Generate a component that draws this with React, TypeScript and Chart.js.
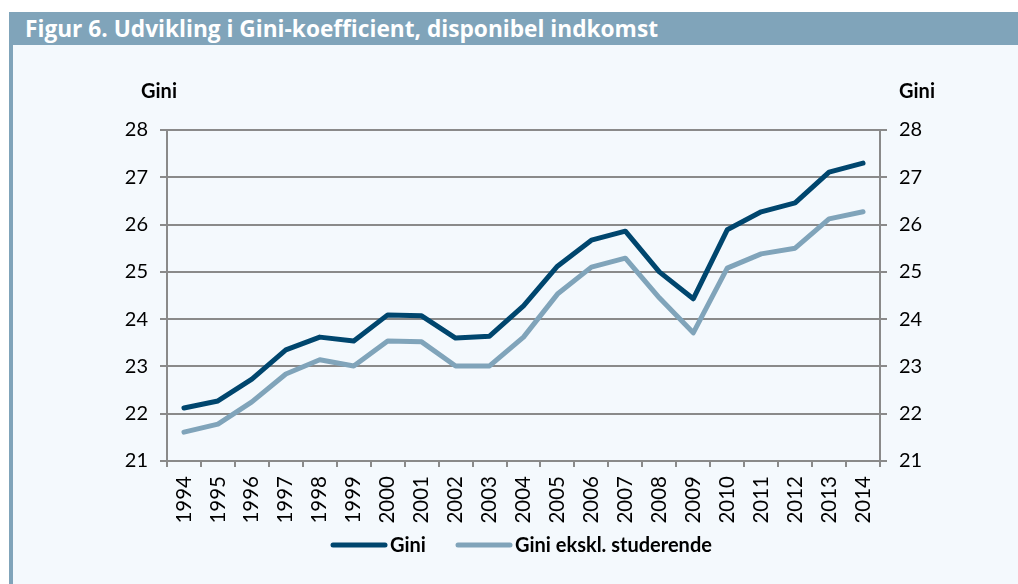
import React, { useEffect, useRef } from "react";
import { Chart, registerables } from "chart.js";

Chart.register(...registerables);

const years = ["1994","1995","1996","1997","1998","1999","2000","2001","2002","2003","2004","2005","2006","2007","2008","2009","2010","2011","2012","2013","2014"];
const gini = [22.12, 22.27, 22.73, 23.35, 23.62, 23.54, 24.09, 24.07, 23.6, 23.64, 24.28, 25.12, 25.67, 25.86, 25.0, 24.43, 25.89, 26.27, 26.46, 27.11, 27.3];
const giniExStud = [21.61, 21.78, 22.25, 22.84, 23.14, 23.01, 23.54, 23.52, 23.01, 23.01, 23.62, 24.53, 25.1, 25.29, 24.45, 23.71, 25.08, 25.38, 25.5, 26.12, 26.27];
const seriesNames = ["Gini", "Gini ekskl. studerende"];
const axisTitle = "Gini";
const title = "Figur 6. Udvikling i Gini-koefficient, disponibel indkomst";

const DARK = "#00466e";
const LIGHT = "#80a4ba";
const GRID = "#8a8a8a";
const FONT = "Lato, 'Open Sans', sans-serif";
const TITLE_FONT = "'Open Sans', Lato, sans-serif";

export default function App() {
  const ref = useRef<HTMLCanvasElement | null>(null);
  useEffect(() => {
    if (!ref.current) return;
    const textPlugin = {
      id: "texts",
      afterDraw(chart: any) {
        const ctx = chart.ctx;
        ctx.save();
        ctx.fillStyle = "#000";
        ctx.font = `bold 20px ${FONT}`;
        ctx.textAlign = "center";
        ctx.textBaseline = "middle";
        ctx.fillText(axisTitle, 146, 47);
        ctx.fillText(axisTitle, 904, 47);
        // legend
        const ly = 500;
        const items = [
          { x: 320, color: DARK, label: seriesNames[0] },
          { x: 445, color: LIGHT, label: seriesNames[1] },
        ];
        ctx.font = `bold 20px ${FONT}`;
        ctx.textAlign = "left";
        for (const it of items) {
          ctx.strokeStyle = it.color;
          ctx.lineWidth = 5;
          ctx.lineCap = "round";
          ctx.beginPath();
          ctx.moveTo(it.x, ly);
          ctx.lineTo(it.x + 52, ly);
          ctx.stroke();
          ctx.fillText(it.label, it.x + 57, ly + 1);
        }
        ctx.restore();
      },
    };
    const chart = new Chart(ref.current, {
      type: "line",
      data: {
        labels: years,
        datasets: [
          { label: seriesNames[0], data: gini, borderColor: DARK, borderWidth: 5, pointRadius: 0, borderJoinStyle: "round", borderCapStyle: "round", tension: 0, yAxisID: "y" },
          { label: seriesNames[1], data: giniExStud, borderColor: LIGHT, borderWidth: 5, pointRadius: 0, borderJoinStyle: "round", borderCapStyle: "round", tension: 0, yAxisID: "y" },
        ],
      },
      options: {
        animation: false,
        responsive: false,
        maintainAspectRatio: false,
        layout: { padding: { top: 85, bottom: 43, left: 0, right: 0 } },
        plugins: { legend: { display: false }, tooltip: { enabled: false } },
        scales: {
          x: {
            offset: true,
            grid: { offset: true, drawOnChartArea: false, drawTicks: true, tickLength: 6, color: GRID, lineWidth: 2 },
            border: { display: true, color: GRID, width: 2 },
            ticks: { autoSkip: false, minRotation: 90, maxRotation: 90, padding: 9, color: "#000", font: { family: FONT, size: 20.5 } },
            afterFit: (s: any) => { s.height = 80; },
          },
          y: {
            position: "left",
            min: 21,
            max: 28,
            ticks: { stepSize: 1, padding: 12, color: "#000", font: { family: FONT, size: 20 } },
            grid: { color: GRID, lineWidth: 2, tickLength: 7, drawTicks: true },
            border: { display: true, color: GRID, width: 2 },
            afterFit: (s: any) => { s.width = 154; },
          },
          y2: {
            position: "right",
            min: 21,
            max: 28,
            ticks: { stepSize: 1, padding: 12, color: "#000", font: { family: FONT, size: 20 } },
            grid: { drawOnChartArea: false, color: GRID, lineWidth: 2, tickLength: 7, drawTicks: true },
            border: { display: true, color: GRID, width: 2 },
            afterFit: (s: any) => { s.width = 138; },
          },
        },
      },
      plugins: [textPlugin],
    } as any);
    return () => chart.destroy();
  }, []);

  return (
    <div style={{ position: "absolute", left: 0, top: 0, width: 1018, height: 584, background: "#ffffff", overflow: "hidden" }}>
      <div style={{ position: "absolute", left: 9, top: 12, width: 1009, height: 33, background: LIGHT, color: "#fff", fontFamily: TITLE_FONT, fontWeight: 700, fontSize: 22.7, lineHeight: "34px", paddingLeft: 16, boxSizing: "border-box", whiteSpace: "nowrap" }}>
        {title}
      </div>
      <div style={{ position: "absolute", left: 9, top: 45, width: 4, height: 539, background: LIGHT }} />
      <div style={{ position: "absolute", left: 13, top: 45, width: 1005, height: 539, background: "#f4f9fd" }}>
        <canvas ref={ref} width={1005} height={539} style={{ display: "block" }} />
      </div>
    </div>
  );
}
